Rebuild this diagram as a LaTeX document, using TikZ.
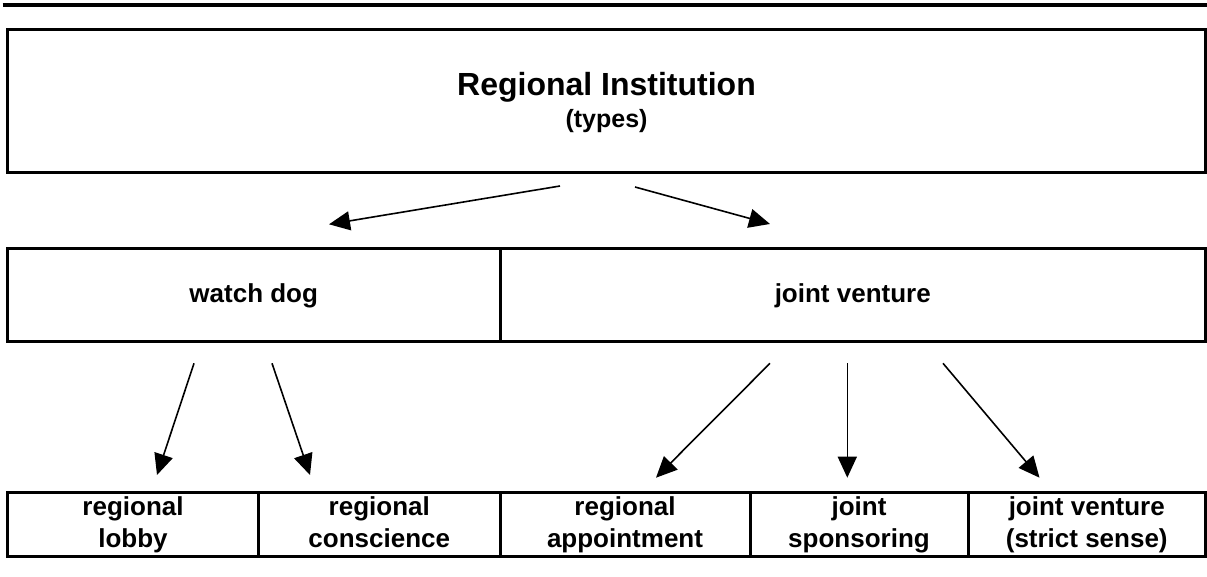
\documentclass[tikz,border=0pt]{standalone}
\usepackage{fontspec}
\setmainfont{Liberation Sans}
\usetikzlibrary{arrows.meta}
\newcommand\topstrut{\rule{0pt}{20pt}}
\newcommand\botstrut{\rule[-6pt]{0pt}{0pt}}
\begin{document}
\begin{tikzpicture}[x=1pt,y=-1pt,
  box/.style={draw, line width=3pt, rectangle, inner sep=0pt, align=center, font=\bfseries\fontsize{26}{32}\selectfont},
  arr/.style={line width=1.6pt, -{Triangle[length=21pt,width=19pt]}},
  rule/.style={line width=4pt}]
\useasboundingbox (0,0) rectangle (1207,577);
\coordinate (r1) at (2.5,4.7);
\coordinate (r2) at (1207,4.7);
\draw[rule] (r1) -- (r2);
% top box
\node[box, minimum width=1198pt, minimum height=143.4pt, font=\bfseries\fontsize{32}{32}\selectfont] (top) at (606.5,101) {\rule{0pt}{27pt}Regional Institution\\{\fontsize{25}{32}\selectfont (types)}};
% middle boxes
\node[box, minimum width=492.5pt, minimum height=92.7pt] (wd) at (253.75,295.35) {watch dog};
\node[box, minimum width=705.5pt, minimum height=92.7pt] (jv) at (852.75,295.35) {joint venture};
% bottom boxes
\node[box, minimum width=251pt, minimum height=63.8pt] (b1) at (133,524.4) {\topstrut regional\\lobby\botstrut};
\node[box, minimum width=241.5pt, minimum height=63.8pt] (b2) at (379.25,524.4) {\topstrut regional\\conscience\botstrut};
\node[box, minimum width=250pt, minimum height=63.8pt] (b3) at (625,524.4) {\topstrut regional\\appointment\botstrut};
\node[box, minimum width=218pt, minimum height=63.8pt] (b4) at (859,524.4) {\topstrut joint\\sponsoring\botstrut};
\node[box, minimum width=237.5pt, minimum height=63.8pt] (b5) at (1086.75,524.4) {\topstrut joint venture\\(strict sense)\botstrut};
% arrow ends
\coordinate (t1) at (560,186);   \coordinate (h1) at (329,224.3);
\coordinate (t2) at (635,187);   \coordinate (h2) at (770,224);
\coordinate (t3) at (194,363.3); \coordinate (h3) at (157,475);
\coordinate (t4) at (272,363.3); \coordinate (h4) at (310,475);
\coordinate (t5) at (770,363.3); \coordinate (h5) at (656,477.7);
\coordinate (t6) at (847.3,363.3); \coordinate (h6) at (847.3,477.7);
\coordinate (t7) at (943,363.3); \coordinate (h7) at (1039.5,477.7);
\draw[arr] (t1) -- (h1);
\draw[arr] (t2) -- (h2);
\draw[arr] (t3) -- (h3);
\draw[arr] (t4) -- (h4);
\draw[arr] (t5) -- (h5);
\draw[arr] (t6) -- (h6);
\draw[arr] (t7) -- (h7);
\end{tikzpicture}
\end{document}
